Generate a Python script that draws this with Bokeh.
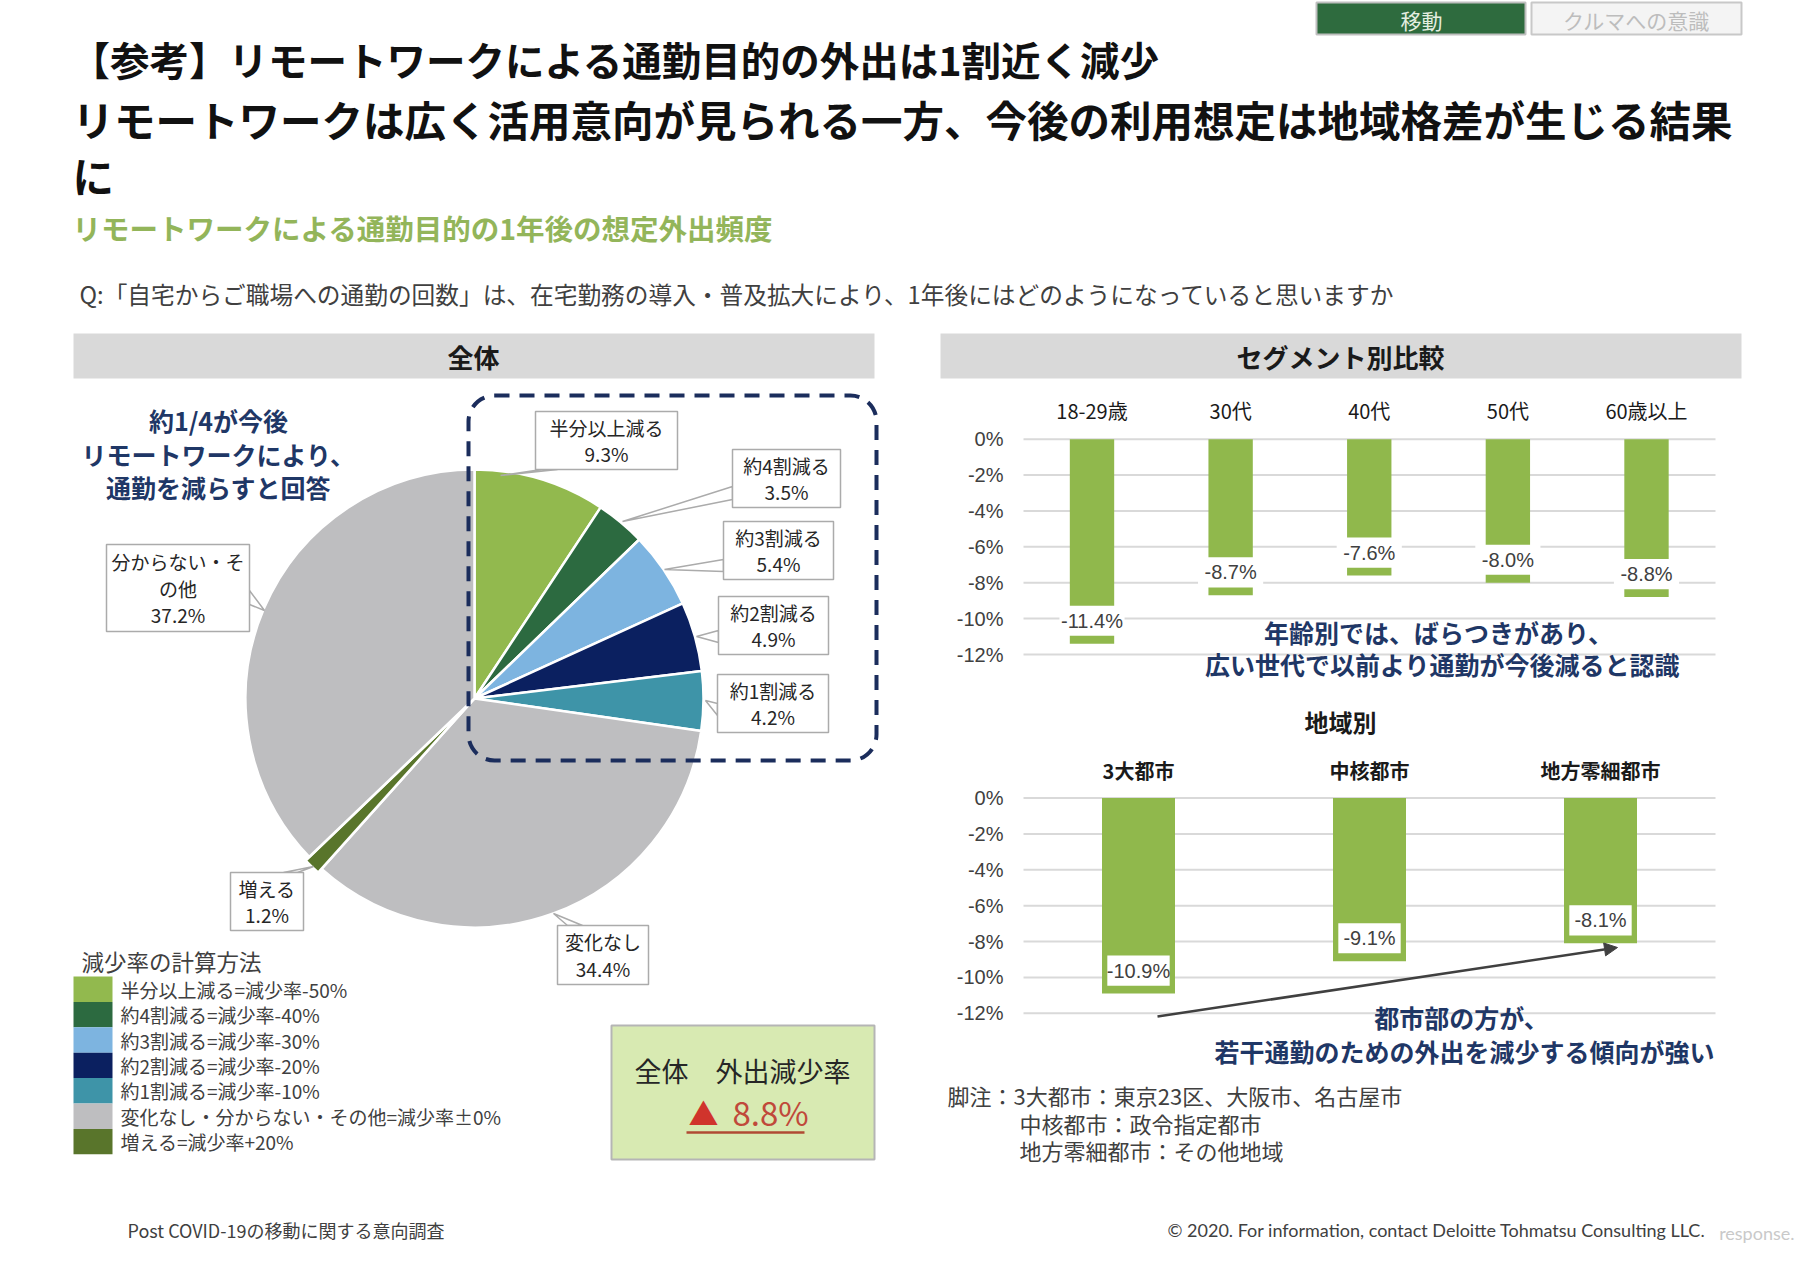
import math
from bokeh.plotting import figure
from bokeh.models import Range1d, BoxAnnotation, Arrow, NormalHead
from bokeh.core.properties import value
from bokeh.embed import file_html
from bokeh.resources import INLINE

# ---------------- data ----------------
pie_labels = ["半分以上減る", "約4割減る", "約3割減る", "約2割減る", "約1割減る",
              "変化なし", "増える", "分からない・その他"]
pie_values = [9.3, 3.5, 5.4, 4.9, 4.2, 34.4, 1.2, 37.2]

age_categories = ["18-29歳", "30代", "40代", "50代", "60歳以上"]
age_values = [-11.4, -8.7, -7.6, -8.0, -8.8]

region_categories = ["3大都市", "中核都市", "地方零細都市"]
region_values = [-10.9, -9.1, -8.1]

y_ticks = [0, -2, -4, -6, -8, -10, -12]
y_tick_labels = ["0%", "-2%", "-4%", "-6%", "-8%", "-10%", "-12%"]

legend_items = ["半分以上減る=減少率-50%", "約4割減る=減少率-40%", "約3割減る=減少率-30%",
                "約2割減る=減少率-20%", "約1割減る=減少率-10%",
                "変化なし・分からない・その他=減少率±0%", "増える=減少率+20%"]
overall_decrease = 8.8

# ---------------- styles ----------------
C_LGREEN = "#92B94E"
C_DGREEN = "#2C6A40"
C_LBLUE = "#7DB4E0"
C_NAVY = "#0B2060"
C_TEAL = "#3E94A8"
C_GREY = "#BEBEC0"
C_OLIVE = "#59752B"
pie_colors = [C_LGREEN, C_DGREEN, C_LBLUE, C_NAVY, C_TEAL, C_GREY, C_OLIVE, C_GREY]
legend_colors = [C_LGREEN, C_DGREEN, C_LBLUE, C_NAVY, C_TEAL, C_GREY, C_OLIVE]
pie_explode = [0, 0, 0, 0, 0, 0, 5, 0]
BAR_GREEN = "#90B84C"
NAVY_TXT = "#1F3766"
GRID = "#D9D9D9"

JP = value("Noto Sans CJK JP")
LAT = value("Liberation Sans")

W, H = 1798, 1244
OX, OY = 0, 0

p = figure(width=W, height=H, x_range=Range1d(OX, OX + W), y_range=Range1d(OY + H, OY),
           output_backend="svg", toolbar_location=None, min_border=0,
           x_axis_type=None, y_axis_type=None)
p.outline_line_color = None
p.background_fill_color = "white"
p.border_fill_color = "white"


def txt(x, y, s, size, color="#262626", align="left", bold=False, font=JP, **kw):
    p.text(x=[x], y=[y], text=[s], text_font=font, text_font_size=f"{size}px",
           text_color=color, text_align=align, text_baseline="middle",
           text_font_style="bold" if bold else "normal", **kw)


def box(x0, x1, y0, y1, fill, line=None, lw=1.0):
    p.quad(left=[x0], right=[x1], top=[y0], bottom=[y1], fill_color=fill,
           line_color=line, line_width=lw)


def x_range_from(v0, px0, v1, px1):
    s = (px1 - px0) / (v1 - v0)
    first = v0 - (px0 - OX) / s
    return Range1d(first, first + W / s)


def y_range_from(v0, py0, v1, py1):
    s = (py1 - py0) / (v1 - v0)
    first = v0 - (py0 - OY) / s
    return Range1d(first + H / s, first)


# ---------------- top tabs ----------------
box(1316, 1525, 2, 34, "#2E6B3E", "#BFBFBF", 2)
txt(1421, 19, "移動", 21, color="#E4EEE0", align="center")
box(1531, 1741, 2, 34, "#F4F4F4", "#C8C8C8", 2)
txt(1636, 19, "クルマへの意識", 21, color="#BDBDBD", align="center")

# ---------------- titles ----------------
txt(70, 58, "【参考】リモートワークによる通勤目的の外出は1割近く減少", 39.5, color="#111111", bold=True)
txt(72, 118, "リモートワークは広く活用意向が見られる一方、今後の利用想定は地域格差が生じる結果", 41.5, color="#111111", bold=True)
txt(72, 174, "に", 41.5, color="#111111", bold=True)
txt(72, 227, "リモートワークによる通勤目的の1年後の想定外出頻度", 28.5, color="#93B55A", bold=True)
txt(79, 293, "Q:「自宅からご職場への通勤の回数」は、在宅勤務の導入・普及拡大により、1年後にはどのようになっていると思いますか",
    23.7, color="#404040")

# ---------------- panel headers ----------------
box(73, 874, 333, 378, GRID)
txt(473, 356, "全体", 26, color="#1A1A1A", align="center", bold=True)
box(940, 1741, 333, 378, GRID)
txt(1340, 356, "セグメント別比較", 26, color="#1A1A1A", align="center", bold=True)

# ---------------- left annotation ----------------
txt(218, 419, "約1/4が今後", 25, color=NAVY_TXT, align="center", bold=True)
txt(218, 453, "リモートワークにより、", 25, color=NAVY_TXT, align="center", bold=True)
txt(218, 486, "通勤を減らすと回答", 25, color=NAVY_TXT, align="center", bold=True)

# ---------------- pie ----------------
CX, CY, R = 474, 698, 229
total = sum(pie_values)
starts, ends, xs, ys = [], [], [], []
cum = 0.0
for v, ex in zip(pie_values, pie_explode):
    a0 = 2 * math.pi * cum / total
    cum += v
    a1 = 2 * math.pi * cum / total
    mid = (a0 + a1) / 2
    starts.append(math.pi / 2 - a0)
    ends.append(math.pi / 2 - a1)
    xs.append(CX + ex * math.sin(mid))
    ys.append(CY - ex * math.cos(mid))
p.wedge(x=xs, y=ys, radius=R, start_angle=starts, end_angle=ends, direction="clock",
        fill_color=pie_colors, line_color="white", line_width=2.5)

# callouts: box, text lines, tail base points, tail tip
callouts = [
    ((535, 677, 411, 469), [pie_labels[0], f"{pie_values[0]}%"], [(541, 469), (557, 469)], (500, 475)),
    ((732, 840, 449, 507), [pie_labels[1], f"{pie_values[1]}%"], [(732, 486), (732, 499)], (622, 521)),
    ((723, 833, 521, 579), [pie_labels[2], f"{pie_values[2]}%"], [(723, 559), (723, 571)], (664, 569)),
    ((718, 828, 596, 654), [pie_labels[3], f"{pie_values[3]}%"], [(718, 630), (718, 642)], (696, 636)),
    ((717, 828, 674, 732), [pie_labels[4], f"{pie_values[4]}%"], [(717, 703), (717, 715)], (705, 700)),
    ((557, 648, 925, 984), [pie_labels[5], f"{pie_values[5]}%"], [(567, 925), (582, 925)], (553, 913)),
    ((230, 303, 872, 930), [pie_labels[6], f"{pie_values[6]}%"], [(283, 872), (297, 872)], (313, 866)),
    ((106, 249, 544, 631), [pie_labels[7][:7], pie_labels[7][7:], f"{pie_values[7]}%"], [(249, 590), (249, 604)], (264, 610)),
]
for (x0, x1, y0, y1), lines, base, tip in callouts:
    p.patch(x=[base[0][0], tip[0], base[1][0]], y=[base[0][1], tip[1], base[1][1]],
            fill_color="white", line_color="#ABABAB", line_width=1.5)
    box(x0, x1, y0, y1, "white", "#ABABAB", 1.5)
    n = len(lines)
    cy = (y0 + y1) / 2
    step = 26.5
    for k, s in enumerate(lines):
        txt((x0 + x1) / 2, cy + (k - (n - 1) / 2) * step, s, 19, color="#262626", align="center")

# dashed rounded box
p.add_layout(BoxAnnotation(left=468, right=876, top=395, bottom=760, fill_alpha=0,
                           line_color="#1B2D5C", line_alpha=1.0, line_width=4,
                           line_dash="15 10", border_radius=26))

# ---------------- legend ----------------
txt(81, 960, "減少率の計算方法", 22.5, color="#404040")
LY0, LH = 976, 25.4
for i, (lab, col) in enumerate(zip(legend_items, legend_colors)):
    box(73, 112, LY0 + i * LH, LY0 + (i + 1) * LH, col)
    txt(120, LY0 + (i + 0.5) * LH, lab, 19, color="#404040")

# ---------------- overall box ----------------
box(611, 874, 1025, 1159, "#D8EAB2", "#B5B5B5", 2)
txt(742, 1070, "全体　外出減少率", 27, color="#262626", align="center")
txt(703, 1111, "▲", 30, color="#D0342C", align="center")
txt(732, 1111, f"{overall_decrease}%", 33, color="#C0493A", align="left")
p.segment(x0=[686], x1=[804], y0=[1132], y1=[1132], line_color="#B04A33", line_width=2.5)

# ---------------- bar charts ----------------
p.extra_x_ranges["age_x"] = x_range_from(0, 1091.5, 4, 1646)
p.extra_y_ranges["age_y"] = y_range_from(0, 438.7, -12, 654.0)
p.extra_x_ranges["reg_x"] = x_range_from(0, 1138, 2, 1600)
p.extra_y_ranges["reg_y"] = y_range_from(0, 797.5, -12, 1012.8)

for xr, yr, cats, vals, cat_y, bw, lbw, bold in [
        ("age_x", "age_y", age_categories, age_values, 410, 0.32, 0.47, False),
        ("reg_x", "reg_y", region_categories, region_values, 770, 0.316, 0.27, True)]:
    n = len(cats)
    idx = list(range(n))
    p.segment(x0=[1023] * len(y_ticks), x1=[1715] * len(y_ticks), y0=y_ticks, y1=y_ticks,
              y_range_name=yr, line_color=GRID, line_width=2)
    p.text(x=[1003] * len(y_ticks), y=y_ticks, text=y_tick_labels, y_range_name=yr,
           text_font=LAT, text_font_size="20px", text_color="#404040",
           text_align="right", text_baseline="middle")
    p.vbar(x=idx, top=[0] * n, bottom=vals, width=bw, x_range_name=xr, y_range_name=yr,
           fill_color=BAR_GREEN, line_color=None)
    p.rect(x=idx, y=[v + 1.28 for v in vals], width=lbw, height=1.68,
           x_range_name=xr, y_range_name=yr, fill_color="white", line_color=None)
    p.text(x=idx, y=[v + 1.28 for v in vals], text=[f"{v:.1f}%" for v in vals],
           x_range_name=xr, y_range_name=yr, text_font=LAT, text_font_size="20px",
           text_color="#404040", text_align="center", text_baseline="middle")
    p.text(x=idx, y=[cat_y] * n, text=cats, x_range_name=xr,
           text_font=JP, text_font_size="20px", text_color="#1A1A1A",
           text_align="center", text_baseline="middle",
           text_font_style="bold" if bold else "normal")

txt(1438, 631, "年齢別では、ばらつきがあり、", 25, color=NAVY_TXT, align="center", bold=True)
txt(1442, 663, "広い世代で以前より通勤が今後減ると認識", 25, color=NAVY_TXT, align="center", bold=True)

# ---------------- region chart extras ----------------
txt(1340, 721, "地域別", 24, color="#1A1A1A", align="center", bold=True)
p.add_layout(Arrow(end=NormalHead(size=13, fill_color="#404040", line_color="#404040"),
                   x_start=1157, y_start=1016, x_end=1617, y_end=947,
                   line_color="#404040", line_width=2.5))
txt(1461, 1016, "都市部の方が、", 25, color=NAVY_TXT, align="center", bold=True)
txt(1464, 1050, "若干通勤のための外出を減少する傾向が強い", 25, color=NAVY_TXT, align="center", bold=True)

txt(947, 1094, "脚注：3大都市：東京23区、大阪市、名古屋市", 22, color="#404040")
txt(1019, 1122, "中核都市：政令指定都市", 22, color="#404040")
txt(1019, 1149, "地方零細都市：その他地域", 22, color="#404040")

# ---------------- footer ----------------
txt(127, 1229, "Post COVID-19の移動に関する意向調査", 18, color="#404040")
txt(1167, 1229, "© 2020. For information, contact Deloitte Tohmatsu Consulting LLC.", 18,
    color="#404040", font=value("Lato"))
txt(1794, 1232, "response.", 18, color="#C9C9C9", align="right", font=value("Lato"))

open("out.html", "w").write(file_html(p, INLINE))
